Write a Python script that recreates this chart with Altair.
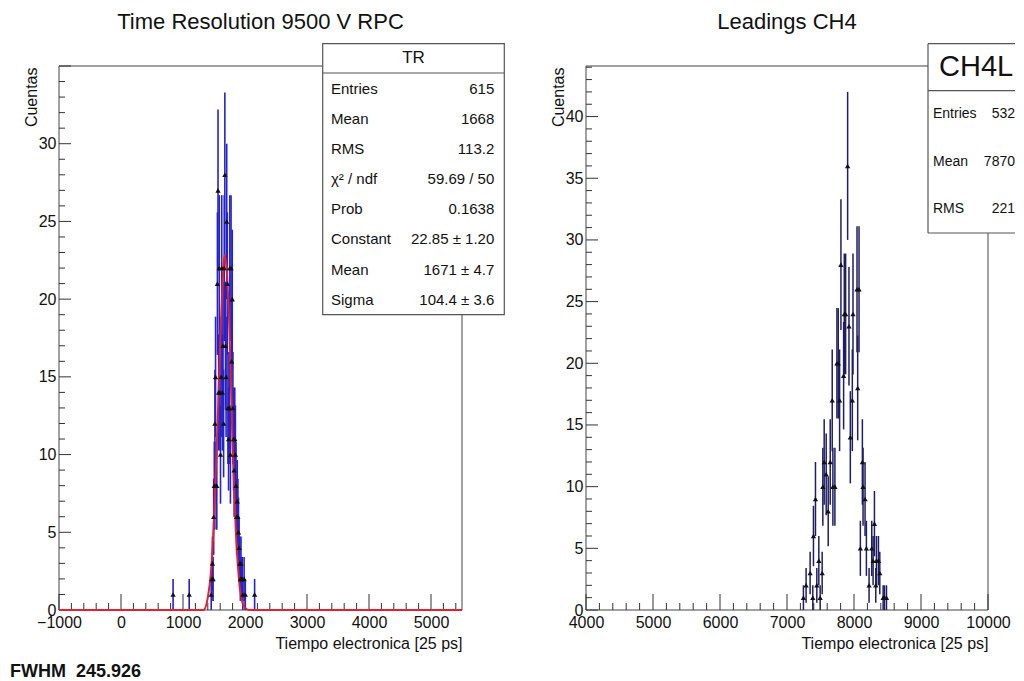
import altair as alt
import pandas as pd

FONT = "Liberation Sans"

# ---------------- data: left histogram "TR" (bin centre, counts) ----------------
tr_x = [840, 1100, 1455, 1465, 1475, 1485, 1495, 1505, 1515, 1525, 1535, 1545, 1555, 1565,
        1575, 1585, 1595, 1605, 1615, 1625, 1635, 1645, 1655, 1665, 1675, 1685, 1695, 1705,
        1715, 1725, 1735, 1745, 1755, 1765, 1775, 1785, 1795, 1805, 1815, 1825, 1835, 1845,
        1855, 1865, 1875, 1885, 1895, 1905, 1915, 1925, 1935, 1945, 1955, 1965, 1985, 2005, 2155]
tr_n = [1, 1, 1, 2, 3, 2, 6, 8, 12, 15, 8, 8, 21, 27,
        14, 22, 14, 10, 15, 22, 14, 17, 12, 22, 28, 17, 15, 25,
        21, 13, 11, 13, 22, 10, 22, 16, 20, 13, 11, 9, 11, 10,
        8, 6, 7, 6, 5, 4, 3, 2, 3, 2, 2, 1, 2, 1, 1]

# gaussian fit curve
fit_x = [-1000, 1330, 1400, 1450, 1500, 1550, 1600, 1650, 1671, 1700, 1750, 1800, 1850, 1900, 1950, 2000, 2060, 5500]
fit_y = [0, 0, 0.8, 2.4, 5.9, 11.1, 17.1, 21.9, 22.85, 22.1, 17.9, 10.6, 5.3, 2.1, 0.6, 0.15, 0, 0]

# ---------------- data: right histogram "CH4L" ----------------
ch4_x = [7245, 7285, 7345, 7385, 7395, 7425, 7445, 7475, 7495, 7525, 7535, 7555, 7585, 7615,
         7645, 7675, 7685, 7715, 7745, 7765, 7785, 7805, 7845, 7855, 7875, 7905, 7925, 7945,
         7975, 7985, 8045, 8055, 8075, 8095, 8125, 8135, 8165, 8185, 8225, 8265, 8285, 8305,
         8325, 8335, 8365, 8385, 8435, 8455, 8485]
ch4_n = [1, 2, 3, 1, 6, 9, 2, 4, 1, 3, 10, 12, 11, 8,
         12, 17, 10, 10, 20, 20, 17, 28, 19, 24, 24, 36, 23, 14,
         17, 24, 26, 18, 26, 5, 12, 10, 9, 5, 2, 5, 4, 7,
         2, 4, 4, 3, 1, 1, 1]

# ---------------- axis tick labels ----------------
left_x_labels = [-1000, 0, 1000, 2000, 3000, 4000, 5000]
left_y_labels = [0, 5, 10, 15, 20, 25, 30]
right_x_labels = [4000, 5000, 6000, 7000, 8000, 9000, 10000]
right_y_labels = [0, 5, 10, 15, 20, 25, 30, 35, 40]

left_stats = [("Entries", "615"), ("Mean", "1668"), ("RMS", "113.2"),
              ("χ² / ndf", "59.69 / 50"), ("Prob", "0.1638"),
              ("Constant", "22.85 ± 1.20"), ("Mean", "1671 ± 4.7"), ("Sigma", "104.4 ± 3.6")]
right_stats = [("Entries", "532"), ("Mean", "7870"), ("RMS", "221")]

W1, W2, H = 403, 402, 544


def blank():
    return alt.Chart(alt.Data(values=[{"k": 0}]))


def txt(s, x, y, size=15, align="left", baseline="middle", weight="normal", color="#111"):
    return blank().mark_text(text=s, fontSize=size, align=align, baseline=baseline,
                             fontWeight=weight, font=FONT, color=color).encode(
        x=alt.value(x), y=alt.value(y))


def rect(x1, y1, x2, y2, fill="white", fo=1.0, stroke="#555", sw=1.2):
    return blank().mark_rect(fill=fill, fillOpacity=fo, stroke=stroke, strokeWidth=sw).encode(
        x=alt.value(x1), x2=alt.value(x2), y=alt.value(y1), y2=alt.value(y2))


def hline(x1, x2, y, color="#555", sw=1.2):
    return blank().mark_rule(color=color, strokeWidth=sw).encode(
        x=alt.value(x1), x2=alt.value(x2), y=alt.value(y))


def vline(x, y1, y2, color="#555", sw=1.2):
    return blank().mark_rule(color=color, strokeWidth=sw).encode(
        x=alt.value(x), y=alt.value(y1), y2=alt.value(y2))


def panel(xs, ns, xdom, ydom, xlabels, ylabels, xminor_step, W, color, ebw, title,
          fit=None, extra=None):
    xaxis = alt.Axis(values=xlabels, format="d", labelFontSize=16, labelFont=FONT,
                     labelColor="#111", labelPadding=4, labelFlush=False, labelOverlap=False,
                     ticks=False, domain=False, grid=False,
                     title="Tiempo electronica [25 ps]", titleFont=FONT, titleFontSize=16,
                     titleFontWeight="normal", titleColor="#111", titleAnchor="end",
                     titlePadding=5)
    yaxis = alt.Axis(values=ylabels, format="d", labelFontSize=16, labelFont=FONT,
                     labelColor="#111", labelPadding=3, labelFlush=False, labelOverlap=False,
                     ticks=False, domain=False, grid=False,
                     title="Cuentas", titleFont=FONT, titleFontSize=16,
                     titleFontWeight="normal", titleColor="#111", titleAngle=270,
                     titleAlign="right", titleBaseline="middle", titleX=-28, titleY=1)
    xs_ = alt.Scale(domain=xdom, nice=False, zero=False)
    ys_ = alt.Scale(domain=ydom, nice=False, zero=False)

    def X(f):
        return alt.X(f, type="quantitative", scale=xs_, axis=xaxis)

    def Y(f):
        return alt.Y(f, type="quantitative", scale=ys_, axis=yaxis)

    xmaj = list(range(xdom[0], xdom[1] + 1, 1000))
    xmin = [v for v in range(xdom[0], int(xdom[1]), xminor_step) if v not in xmaj]
    ymaj = list(range(0, int(ydom[1]) + 1, 5))
    ymin = [v for v in range(0, int(ydom[1]) + 1) if v not in ymaj]

    layers = [rect(0, 0, W, H, fill="white", fo=0, stroke="#444", sw=1)]
    layers.append(alt.Chart(pd.DataFrame({"v": xmaj})).mark_rule(color="#333", strokeWidth=1)
                  .encode(x=X("v"), y=alt.value(H), y2=alt.value(H - 16)))
    layers.append(alt.Chart(pd.DataFrame({"v": xmin})).mark_rule(color="#333", strokeWidth=1)
                  .encode(x=X("v"), y=alt.value(H), y2=alt.value(H - 7)))
    layers.append(alt.Chart(pd.DataFrame({"v": ymaj})).mark_rule(color="#333", strokeWidth=1)
                  .encode(y=Y("v"), x=alt.value(0), x2=alt.value(12)))
    layers.append(alt.Chart(pd.DataFrame({"v": ymin})).mark_rule(color="#333", strokeWidth=1)
                  .encode(y=Y("v"), x=alt.value(0), x2=alt.value(6)))

    df = pd.DataFrame({"x": xs, "n": ns})
    base = alt.Chart(df)
    layers.append(base.transform_calculate(lo="datum.n - sqrt(datum.n)",
                                           hi="datum.n + sqrt(datum.n)")
                  .mark_rule(color=color, strokeWidth=ebw)
                  .encode(x=X("x"), y=Y("lo"), y2=alt.Y2("hi")))
    if fit is not None:
        fdf = pd.DataFrame({"fx": fit[0], "fy": fit[1]})
        layers.append(alt.Chart(fdf).mark_line(color="#e3202e", strokeWidth=2,
                                              interpolate="monotone")
                      .encode(x=X("fx"), y=Y("fy")))
    layers.append(base.mark_point(shape="triangle-up", filled=True, size=28, color="#111",
                                  opacity=1).encode(x=X("x"), y=Y("n")))
    layers.append(txt(title, W / 2, -37, size=22, align="center", baseline="alphabetic"))
    if extra:
        layers.extend(extra)
    return alt.layer(*layers).properties(width=W, height=H)


# left stats box
lb = [rect(263.7, -22.3, 445.3, 248.7), hline(263.7, 445.3, 7),
      txt("TR", 354.5, -8, size=17, align="center")]
for i, (k, v) in enumerate(left_stats):
    y = 22.7 + i * 30.15
    lb.append(txt(k, 272, y, size=15))
    lb.append(txt(v, 435.3, y, size=15, align="right"))
lb.append(txt("FWHM\u00a0\u00a0245.926", -49, 611, size=18, weight="bold",
              baseline="alphabetic"))

# right stats box (cut by the window edge)
RB = 429
rb = [rect(342, -22.3, RB, 167, stroke="white", sw=0),
      hline(342, RB, -22.3), hline(342, RB, 167), vline(342, -22.3, 167),
      hline(342, RB, 24.7),
      txt("CH4L", 353, 1, size=29)]
for i, (k, v) in enumerate(right_stats):
    y = 47.7 + i * 47.8
    rb.append(txt(k, 347, y, size=14))
    rb.append(txt(v, RB, y, size=14, align="right"))

left = panel(tr_x, tr_n, [-1000, 5500], [0, 35], left_x_labels, left_y_labels, 200, W1,
             "#2424c8", 1.6, "Time Resolution 9500 V RPC", fit=(fit_x, fit_y), extra=lb)
right = panel(ch4_x, ch4_n, [4000, 10000], [0, 44.1], right_x_labels, right_y_labels, 200, W2,
              "#1e1e66", 1.5, "Leadings CH4", extra=rb)

chart = alt.hconcat(left, right, spacing=124, bounds="flush").configure_view(
    strokeWidth=0).properties(padding={"left": 2, "top": 3, "right": 0, "bottom": 0})

chart.save("out.html", embed_options={"renderer": "svg", "actions": False})
